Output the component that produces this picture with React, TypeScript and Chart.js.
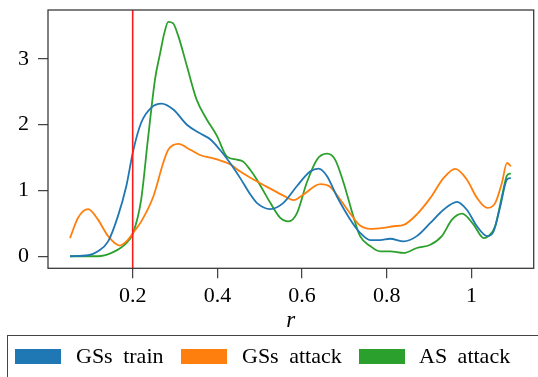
import React, { useEffect, useRef } from "react";
import { Chart, registerables } from "chart.js";

Chart.register(...registerables);

// ---- data ----
const seriesLabels = ["GSs train", "GSs attack", "AS attack"];

const gssTrainX = [0.052, 0.095, 0.118, 0.142, 0.165, 0.185, 0.201, 0.22, 0.244, 0.268, 0.296, 0.328, 0.359, 0.383, 0.406, 0.43, 0.454, 0.477, 0.493, 0.525, 0.556, 0.588, 0.619, 0.639, 0.659, 0.682, 0.714, 0.737, 0.761, 0.784, 0.808, 0.84, 0.871, 0.903, 0.934, 0.966, 0.989, 1.013, 1.037, 1.052, 1.068, 1.084, 1.093];
const gssTrainY = [0.005, 0.02, 0.08, 0.23, 0.61, 1.07, 1.6, 2.03, 2.26, 2.32, 2.23, 2.0, 1.87, 1.78, 1.62, 1.42, 1.19, 0.95, 0.815, 0.72, 0.815, 1.07, 1.29, 1.335, 1.22, 0.915, 0.56, 0.36, 0.25, 0.25, 0.27, 0.23, 0.31, 0.51, 0.71, 0.83, 0.71, 0.46, 0.31, 0.38, 0.76, 1.17, 1.19];

const gssAttackX = [0.052, 0.071, 0.095, 0.118, 0.142, 0.169, 0.185, 0.201, 0.22, 0.249, 0.272, 0.284, 0.308, 0.336, 0.359, 0.383, 0.406, 0.43, 0.454, 0.477, 0.525, 0.556, 0.58, 0.603, 0.643, 0.666, 0.69, 0.714, 0.737, 0.761, 0.792, 0.816, 0.84, 0.871, 0.903, 0.934, 0.962, 0.989, 1.013, 1.037, 1.056, 1.072, 1.084, 1.093];
const gssAttackY = [0.28, 0.59, 0.72, 0.56, 0.31, 0.167, 0.23, 0.36, 0.53, 0.915, 1.42, 1.62, 1.71, 1.62, 1.54, 1.5, 1.46, 1.4, 1.29, 1.2, 1.03, 0.925, 0.855, 0.94, 1.1, 1.06, 0.865, 0.65, 0.47, 0.42, 0.435, 0.46, 0.48, 0.64, 0.89, 1.19, 1.33, 1.17, 0.89, 0.74, 0.81, 1.12, 1.42, 1.37];

const asAttackX = [0.052, 0.118, 0.15, 0.181, 0.201, 0.22, 0.236, 0.253, 0.265, 0.274, 0.284, 0.295, 0.308, 0.328, 0.351, 0.375, 0.399, 0.422, 0.446, 0.461, 0.477, 0.493, 0.525, 0.548, 0.568, 0.588, 0.611, 0.635, 0.659, 0.678, 0.698, 0.721, 0.737, 0.761, 0.784, 0.808, 0.84, 0.871, 0.903, 0.93, 0.954, 0.978, 1.005, 1.029, 1.04, 1.056, 1.072, 1.084, 1.093];
const asAttackY = [0.005, 0.005, 0.055, 0.18, 0.36, 0.865, 1.78, 2.7, 3.09, 3.37, 3.56, 3.54, 3.34, 2.89, 2.38, 2.08, 1.83, 1.52, 1.47, 1.44, 1.32, 1.17, 0.815, 0.59, 0.535, 0.66, 1.12, 1.47, 1.56, 1.47, 1.12, 0.61, 0.31, 0.16, 0.08, 0.08, 0.055, 0.13, 0.18, 0.31, 0.56, 0.65, 0.485, 0.28, 0.31, 0.46, 0.915, 1.23, 1.26];

const thresholdR = 0.2;
const xTicks = [0.2, 0.4, 0.6, 0.8, 1.0];
const yTicks = [0, 1, 2, 3];
const xRange = [0.0, 1.147];
const yRange = [-0.178, 3.74];

// ---- styles ----
const COLORS = ["#1f77b4", "#ff7f0e", "#2ca02c"];
const SERIF = "'Liberation Serif', 'Times New Roman', serif";

const toPoints = (xs: number[], ys: number[]) => xs.map((x, i) => ({ x, y: ys[i] }));

const redLinePlugin = {
  id: "redLine",
  afterDatasetsDraw(chart: any) {
    const { ctx, chartArea, scales } = chart;
    const x = scales.x.getPixelForValue(thresholdR);
    ctx.save();
    ctx.strokeStyle = "#ff1a1a";
    ctx.lineWidth = 1.6;
    ctx.beginPath();
    ctx.moveTo(x, chartArea.top);
    ctx.lineTo(x, chartArea.bottom);
    ctx.stroke();
    ctx.restore();
  },
};

const framePlugin = {
  id: "frame",
  afterDraw(chart: any) {
    const { ctx, chartArea } = chart;
    ctx.save();
    ctx.strokeStyle = "#333";
    ctx.lineWidth = 1.25;
    ctx.strokeRect(chartArea.left, chartArea.top, chartArea.right - chartArea.left, chartArea.bottom - chartArea.top);
    ctx.restore();
  },
};

export default function App() {
  const canvasRef = useRef<HTMLCanvasElement | null>(null);

  useEffect(() => {
    if (!canvasRef.current) return;
    const series = [
      toPoints(gssTrainX, gssTrainY),
      toPoints(gssAttackX, gssAttackY),
      toPoints(asAttackX, asAttackY),
    ];
    const chart = new Chart(canvasRef.current, {
      type: "line",
      data: {
        datasets: series.map((pts, i) => ({
          label: seriesLabels[i],
          data: pts,
          borderColor: COLORS[i],
          backgroundColor: COLORS[i],
          borderWidth: 1.8,
          pointRadius: 0,
          fill: false,
          cubicInterpolationMode: "monotone" as const,
        })),
      },
      options: {
        animation: false,
        responsive: false,
        maintainAspectRatio: false,
        devicePixelRatio: 1,
        layout: { padding: { left: 0, top: 10, right: 4.3, bottom: 42.7 } },
        plugins: { legend: { display: false }, tooltip: { enabled: false } },
        scales: {
          x: {
            type: "linear",
            min: xRange[0],
            max: xRange[1],
            afterBuildTicks: (scale: any) => {
              scale.ticks = xTicks.map((v) => ({ value: v }));
            },
            afterFit: (scale: any) => {
              scale.height = 66;
              scale.paddingLeft = 0;
              scale.paddingRight = 0;
            },
            ticks: {
              color: "#000",
              padding: 5,
              font: { family: SERIF, size: 22 },
              callback: (v: any) => (Number(v) === 1 ? "1" : Number(v).toFixed(1)),
            },
            grid: { display: true, drawOnChartArea: false, drawTicks: true, tickLength: 10, color: "#444", lineWidth: 1.25 },
            border: { display: false },
            title: { display: true, text: "r", color: "#000", padding: 0, font: { family: SERIF, size: 23, style: "italic" } },
          },
          y: {
            type: "linear",
            min: yRange[0],
            max: yRange[1],
            afterBuildTicks: (scale: any) => {
              scale.ticks = yTicks.map((v) => ({ value: v }));
            },
            afterFit: (scale: any) => {
              scale.width = 48;
              scale.paddingTop = 0;
              scale.paddingBottom = 0;
            },
            ticks: {
              color: "#000",
              padding: 9,
              font: { family: SERIF, size: 22 },
              callback: (v: any) => String(v),
            },
            grid: { display: true, drawOnChartArea: false, drawTicks: true, tickLength: 10, color: "#444", lineWidth: 1.25 },
            border: { display: false },
          },
        },
      },
      plugins: [redLinePlugin, framePlugin],
    });
    return () => chart.destroy();
  }, []);

  const legendItems = [
    { patch: 15, text: 76 },
    { patch: 181, text: 242 },
    { patch: 359, text: 419 },
  ];

  return (
    <div style={{ position: "fixed", left: 0, top: 0, width: 538, height: 377, overflow: "hidden", background: "#fff" }}>
      <canvas ref={canvasRef} width={538} height={377} style={{ position: "absolute", left: 0, top: 0, width: 538, height: 377 }} />
      <div
        style={{
          position: "absolute",
          left: 7,
          top: 335,
          width: 600,
          height: 60,
          border: "1.3px solid #444",
          boxSizing: "border-box",
        }}
      >
        {seriesLabels.map((label, i) => (
          <React.Fragment key={label}>
            <div
              style={{
                position: "absolute",
                left: legendItems[i].patch - 8,
                top: 13,
                width: 46,
                height: 15,
                background: COLORS[i],
              }}
            />
            <div
              style={{
                position: "absolute",
                left: legendItems[i].text - 8,
                top: 6,
                fontFamily: SERIF,
                fontSize: 22,
                lineHeight: "28px",
                wordSpacing: 5,
                color: "#000",
                whiteSpace: "nowrap",
              }}
            >
              {label}
            </div>
          </React.Fragment>
        ))}
      </div>
    </div>
  );
}
